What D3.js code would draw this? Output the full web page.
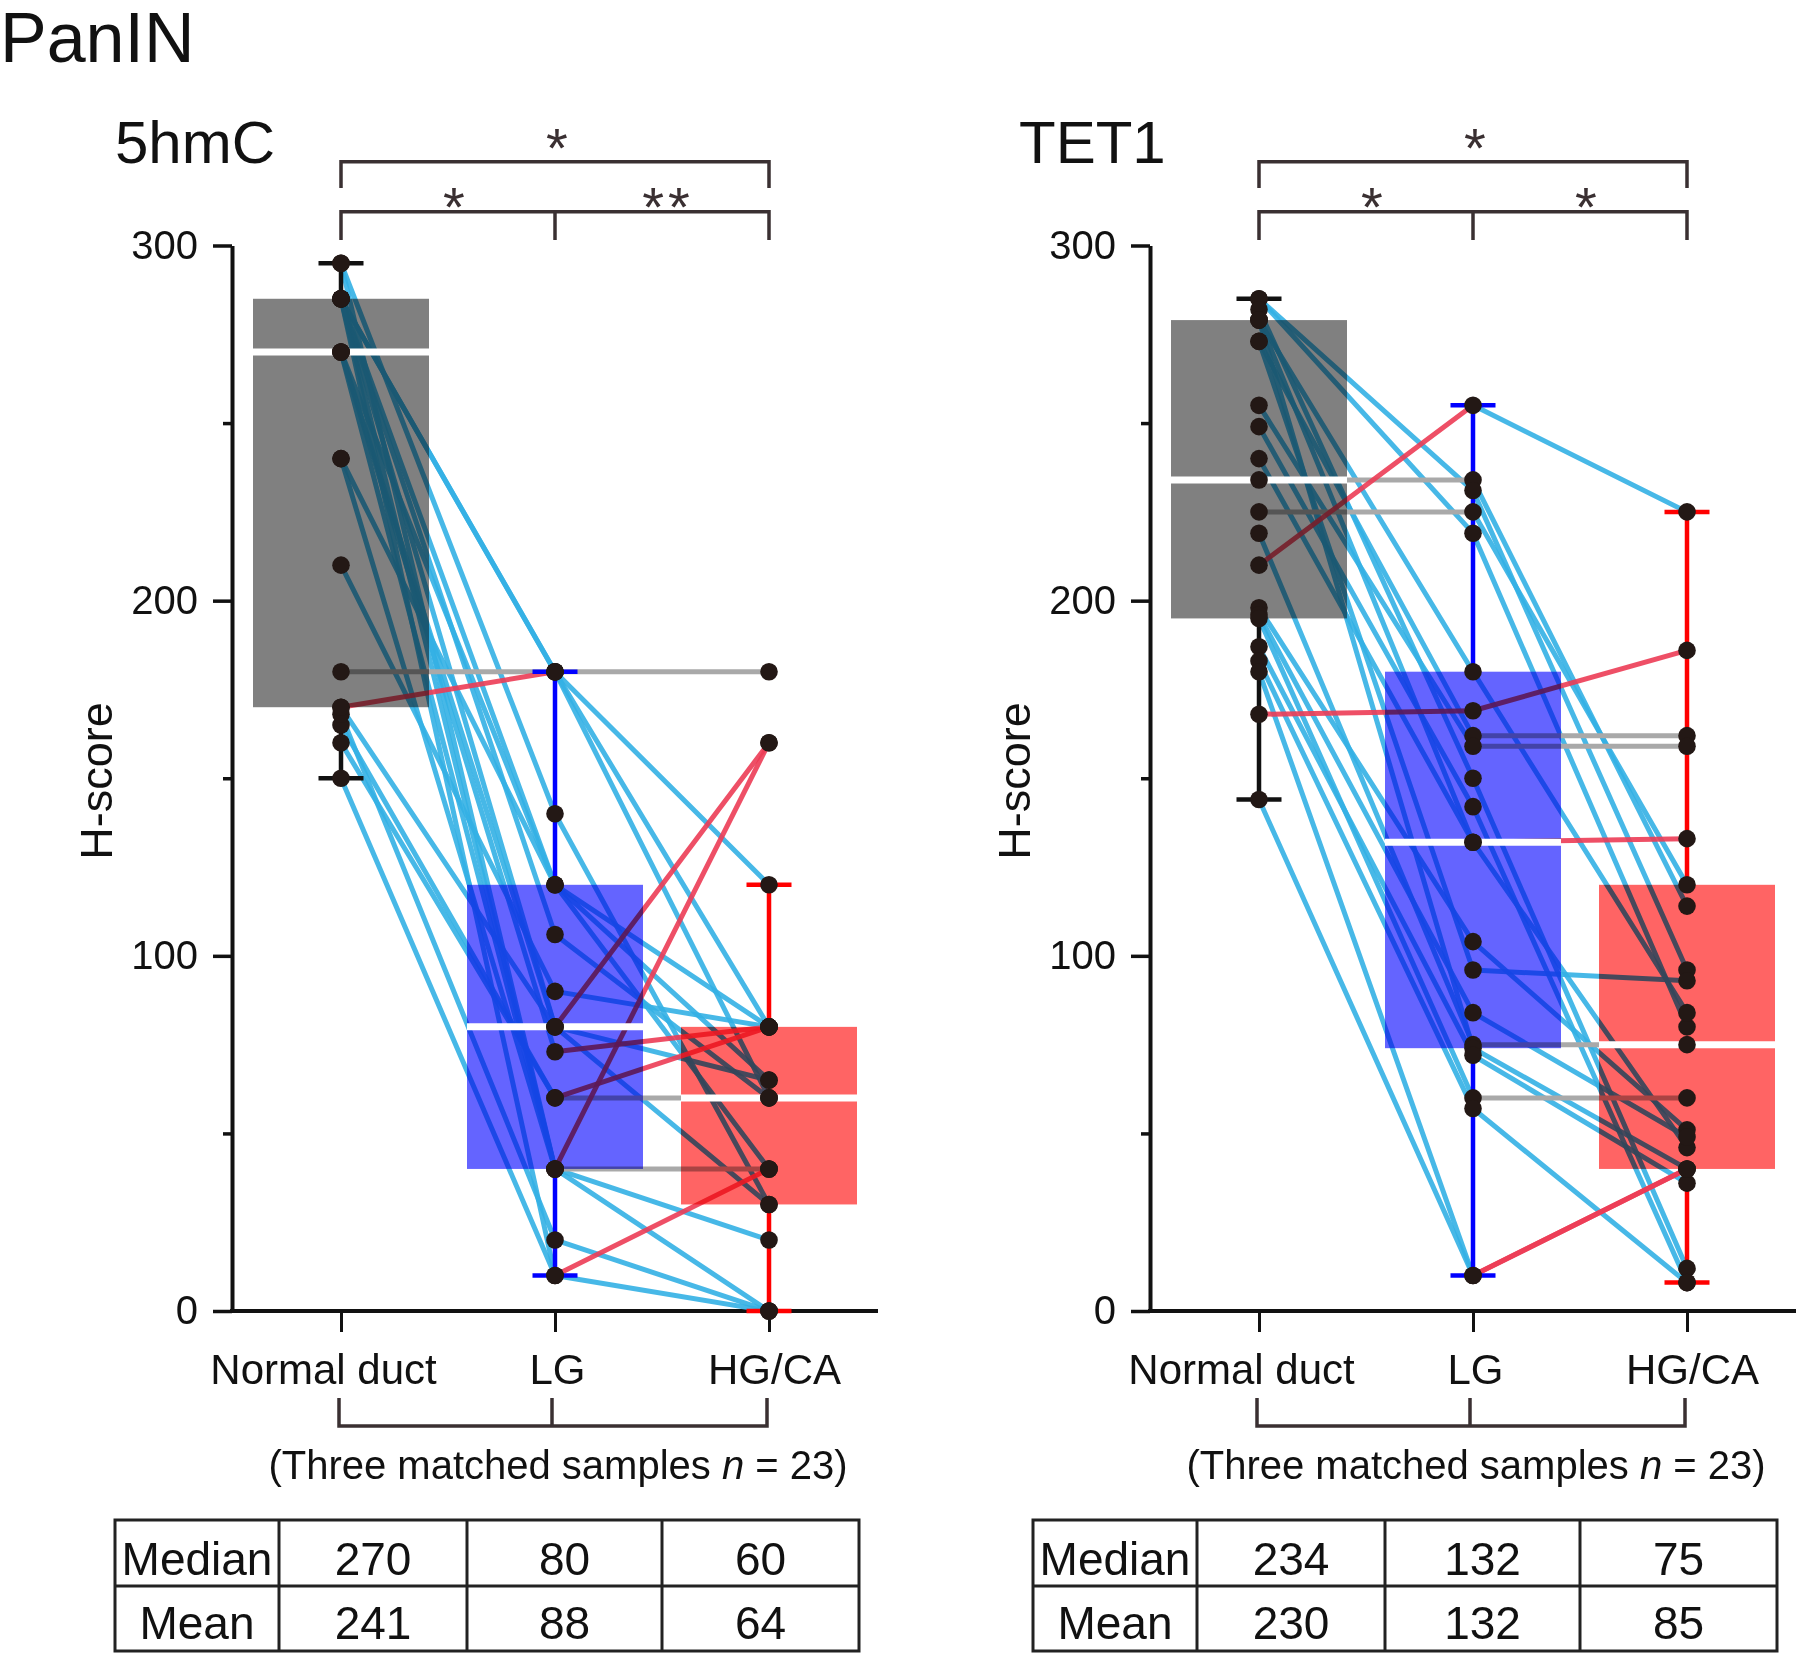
<!DOCTYPE html>
<html><head><meta charset="utf-8">
<script src="https://cdn.jsdelivr.net/npm/d3@7"></script>
<style>
html,body{margin:0;padding:0;background:#fff;}
svg{display:block;font-family:"Liberation Sans",Arial,Helvetica,sans-serif;}
</style></head><body>
<svg id="chart" width="1800" height="1664"></svg>
<script>
// ---------------- data ----------------
const figureTitle = "PanIN";
const panelTitles = ["5hmC", "TET1"];
const categories = ["Normal duct", "LG", "HG/CA"];
const yTickValues = [0, 100, 200, 300];
const yMinorTickValues = [50, 150, 250];
const yLabel = "H-score";

// 5hmC: matched samples (index = patient), n = 23
const hmcNormal = [180,170,285,285,295,285,270,240,285,210,270,285,270,165,160,285,240,295,270,168,150,285,170];
const hmcLG     = [180,180,180,180,140,120,120,120,106, 90, 80, 80, 73, 60, 60, 40, 40, 40, 40, 20, 10, 10, 80];
const hmcHG     = [180,120, 80, 60, 30, 65, 80, 40, 60, 80, 65, 30, 80, 60, 80, 40,160, 20,  0,  0, 40,  0,160];

// TET1: matched samples (index = patient), n = 23
const tetNormal = [210,168,225,234,285,285,279,273,255,282,249,240,279,198,273,196,219,279,187,195,183,180,144];
const tetLG     = [255,169,225,234,231,219,180,162,159,150,142,132,132,104, 96, 84, 75, 74, 72, 60, 57, 10, 10];
const tetHG     = [225,186,120,114, 96, 80, 84,162,159, 12,  8,133, 46, 51, 93, 49, 75, 40, 36, 60,  8, 40, 40];

// significance brackets: [from, to] category pairs and labels
const sigPairs = [[0, 2], [0, 1], [1, 2]];
const hmcSigLabels = ["*", "*", "**"];
const tetSigLabels = ["*", "*", "*"];

// summary tables
const tableRowLabels = ["Median", "Mean"];
const hmcMedians = ["270", "80", "60"];
const hmcMeans   = ["241", "88", "64"];
const tetMedians = ["234", "132", "75"];
const tetMeans   = ["230", "132", "85"];

const sampleNote = ["(Three matched samples ", "n", " = 23)"];

// ---------------- styles ----------------
const boxFill = ["#808080", "#6464ff", "#ff6464"];
const whiskerColor = ["#111111", "#0000ff", "#ff0000"];
const lineBlue = "#33b0e4", lineRed = "#ec3c55", lineGray = "#a9a9a9";
const dotColor = "#231815";
const textColor = "#111";
const bracketColor = "#3a3032";

// ---------------- layout ----------------
const svg = d3.select("#chart");
const W = 1800, H = 1664;
svg.append("rect").attr("width", W).attr("height", H).attr("fill", "#fff");

const y = d3.scaleLinear().domain([0, 300]).range([1311, 245.5]);
const x = d3.scalePoint().domain(categories).range([341, 769]);
const axisX = 232, axisRight = 878;
const boxHalf = 88, capHalf = 22.5;

svg.append("text").attr("x", 0).attr("y", 62).attr("font-size", 70)
  .attr("fill", textColor).text(figureTitle);

function quant(sorted, p) {
  const pos = (sorted.length + 1) * p;
  const lo = Math.floor(pos), hi = Math.ceil(pos);
  const a = sorted[Math.max(0, Math.min(sorted.length - 1, lo - 1))];
  const b = sorted[Math.max(0, Math.min(sorted.length - 1, hi - 1))];
  return a + (b - a) * (pos - lo);
}
function stats(vals) {
  const s = vals.slice().sort((a, b) => a - b);
  const q1 = quant(s, 0.25), med = quant(s, 0.5), q3 = quant(s, 0.75);
  const iqr = q3 - q1;
  const lo = d3.min(s.filter(v => v >= q1 - 1.5 * iqr));
  const hi = d3.max(s.filter(v => v <= q3 + 1.5 * iqr));
  return {q1, med, q3, lo, hi};
}

function drawPanel(offset, titleX, title, groups, sigLabels, medians, means) {
  const g = svg.append("g").attr("transform", `translate(${offset},0)`);

  // title
  svg.append("text").attr("x", titleX).attr("y", 163).attr("font-size", 60)
    .attr("fill", textColor).text(title);

  // y axis
  const ya = g.append("g").attr("transform", `translate(${axisX},0)`)
    .call(d3.axisLeft(y).tickValues(yTickValues).tickSize(19).tickSizeOuter(0).tickPadding(15));
  ya.select(".domain").attr("stroke", "#111").attr("stroke-width", 4);
  ya.selectAll(".tick line").attr("stroke", "#111").attr("stroke-width", 3.5);
  ya.selectAll(".tick text").attr("font-size", 40).attr("fill", textColor)
    .attr("font-family", "Liberation Sans, Arial, sans-serif");
  const ym = g.append("g").attr("transform", `translate(${axisX},0)`)
    .call(d3.axisLeft(y).tickValues(yMinorTickValues).tickSize(9).tickSizeOuter(0).tickFormat(""));
  ym.select(".domain").remove();
  ym.selectAll(".tick line").attr("stroke", "#111").attr("stroke-width", 3.5);

  // y label
  g.append("text").attr("transform", `translate(112,781) rotate(-90)`)
    .attr("text-anchor", "middle").attr("font-size", 45).attr("fill", textColor).text(yLabel);

  // x axis
  g.append("line").attr("x1", axisX - 2).attr("x2", axisRight)
    .attr("y1", y(0)).attr("y2", y(0)).attr("stroke", "#111").attr("stroke-width", 4);
  const xa = g.append("g").attr("transform", `translate(0,${y(0)})`)
    .call(d3.axisBottom(x).tickSize(21).tickPadding(22));
  xa.select(".domain").remove();
  xa.selectAll(".tick line").attr("stroke", "#111").attr("stroke-width", 3);
  const labelDx = [-18, 2, 5];
  xa.selectAll(".tick text").attr("font-size", 42).attr("fill", textColor)
    .attr("font-family", "Liberation Sans, Arial, sans-serif")
    .attr("dx", (d, i) => labelDx[i]);

  // connecting lines
  const n = groups[0].length;
  const segs = [];
  for (let i = 0; i < n; i++) {
    for (let k = 0; k < 2; k++) {
      const a = groups[k][i], b = groups[k + 1][i];
      segs.push({k, a, b, type: b > a ? 2 : (b < a ? 0 : 1)});
    }
  }
  const segCol = [lineBlue, lineGray, lineRed];
  const lg = g.append("g");
  lg.selectAll("line").data(segs.sort((p, q) => p.type - q.type)).join("line")
    .attr("x1", d => x(categories[d.k])).attr("x2", d => x(categories[d.k + 1]))
    .attr("y1", d => y(d.a)).attr("y2", d => y(d.b))
    .attr("stroke", d => segCol[d.type]).attr("stroke-width", 5)
    .attr("stroke-opacity", d => d.type === 1 ? 1 : 0.9)
    .attr("stroke-linecap", "round");

  const st = groups.map(stats);

  // boxes (multiply blend over the lines)
  g.append("g").selectAll("rect").data(st).join("rect")
    .attr("x", (d, i) => x(categories[i]) - boxHalf).attr("width", boxHalf * 2)
    .attr("y", d => y(d.q3)).attr("height", d => y(d.q1) - y(d.q3))
    .attr("fill", (d, i) => boxFill[i]).style("mix-blend-mode", "multiply");

  // medians
  g.append("g").selectAll("line").data(st).join("line")
    .attr("x1", (d, i) => x(categories[i]) - boxHalf).attr("x2", (d, i) => x(categories[i]) + boxHalf)
    .attr("y1", d => y(d.med)).attr("y2", d => y(d.med))
    .attr("stroke", "#fff").attr("stroke-width", 7);

  // whiskers
  const wg = g.append("g");
  st.forEach((d, i) => {
    const cx = x(categories[i]);
    const c = whiskerColor[i];
    wg.append("line").attr("x1", cx).attr("x2", cx).attr("y1", y(d.hi)).attr("y2", y(d.q3))
      .attr("stroke", c).attr("stroke-width", 4.5);
    wg.append("line").attr("x1", cx).attr("x2", cx).attr("y1", y(d.q1)).attr("y2", y(d.lo))
      .attr("stroke", c).attr("stroke-width", 4.5);
    [d.hi, d.lo].forEach(v => {
      wg.append("line").attr("x1", cx - capHalf).attr("x2", cx + capHalf)
        .attr("y1", y(v)).attr("y2", y(v)).attr("stroke", c).attr("stroke-width", 4.5);
    });
  });

  // dots
  const dg = g.append("g");
  groups.forEach((vals, k) => {
    dg.selectAll(null).data(vals).join("circle")
      .attr("cx", x(categories[k])).attr("cy", v => y(v)).attr("r", 8.8)
      .attr("fill", dotColor);
  });

  // significance brackets
  const bg = g.append("g").attr("stroke", bracketColor).attr("stroke-width", 3.5).attr("fill", "none");
  const topY = 161.7, topLeg = 188, midY = 211.7, midLeg = 240;
  bg.append("path").attr("d",
    `M${x(categories[0])},${topLeg}V${topY}H${x(categories[2])}V${topLeg}`);
  bg.append("path").attr("d",
    `M${x(categories[0])},${midLeg}V${midY}H${x(categories[2])}V${midLeg}`);
  bg.append("line").attr("x1", x(categories[1])).attr("x2", x(categories[1]))
    .attr("y1", midY).attr("y2", midLeg);
  sigPairs.forEach((p, i) => {
    const cx = (x(categories[p[0]]) + x(categories[p[1]])) / 2 + (i === 0 ? 2 : 6);
    g.append("text").attr("x", cx).attr("y", i === 0 ? 167 : 226)
      .attr("text-anchor", "middle").attr("font-size", 56).attr("fill", bracketColor)
      .attr("letter-spacing", sigLabels[i].length > 1 ? 4 : 0)
      .text(sigLabels[i]);
  });

  // bottom bracket
  const bb = g.append("g").attr("stroke", bracketColor).attr("stroke-width", 3.5).attr("fill", "none");
  bb.append("path").attr("d",
    `M${x(categories[0]) - 2},1398V1426H${x(categories[2]) - 2}V1398`);
  bb.append("line").attr("x1", x(categories[1]) - 3).attr("x2", x(categories[1]) - 3)
    .attr("y1", 1398).attr("y2", 1426);

  const note = g.append("text").attr("x", x(categories[1]) + 3).attr("y", 1479)
    .attr("text-anchor", "middle").attr("font-size", 40).attr("fill", textColor);
  note.append("tspan").text(sampleNote[0]);
  note.append("tspan").attr("font-style", "italic").text(sampleNote[1]);
  note.append("tspan").text(sampleNote[2]);

  // table
  const tx = 115, colW = [164, 188, 195, 197];
  const colX = [tx]; colW.forEach(w => colX.push(colX[colX.length - 1] + w));
  const rowY = [1520, 1586, 1651];
  const tg = g.append("g").attr("stroke", "#222").attr("stroke-width", 3).attr("fill", "none");
  tg.append("rect").attr("x", colX[0]).attr("y", rowY[0])
    .attr("width", colX[4] - colX[0]).attr("height", rowY[2] - rowY[0]);
  tg.append("line").attr("x1", colX[0]).attr("x2", colX[4]).attr("y1", rowY[1]).attr("y2", rowY[1]);
  colX.slice(1, 4).forEach(cx => tg.append("line").attr("x1", cx).attr("x2", cx)
    .attr("y1", rowY[0]).attr("y2", rowY[2]));
  const rows = [[tableRowLabels[0], ...medians], [tableRowLabels[1], ...means]];
  const baselines = [1575, 1639];
  rows.forEach((r, ri) => r.forEach((t, ci) => {
    g.append("text").attr("x", (colX[ci] + colX[ci + 1]) / 2).attr("y", baselines[ri])
      .attr("text-anchor", "middle").attr("font-size", 46).attr("fill", textColor).text(t);
  }));
}

drawPanel(0, 115, panelTitles[0], [hmcNormal, hmcLG, hmcHG], hmcSigLabels, hmcMedians, hmcMeans);
drawPanel(918, 1019, panelTitles[1], [tetNormal, tetLG, tetHG], tetSigLabels, tetMedians, tetMeans);
</script>
</body></html>
